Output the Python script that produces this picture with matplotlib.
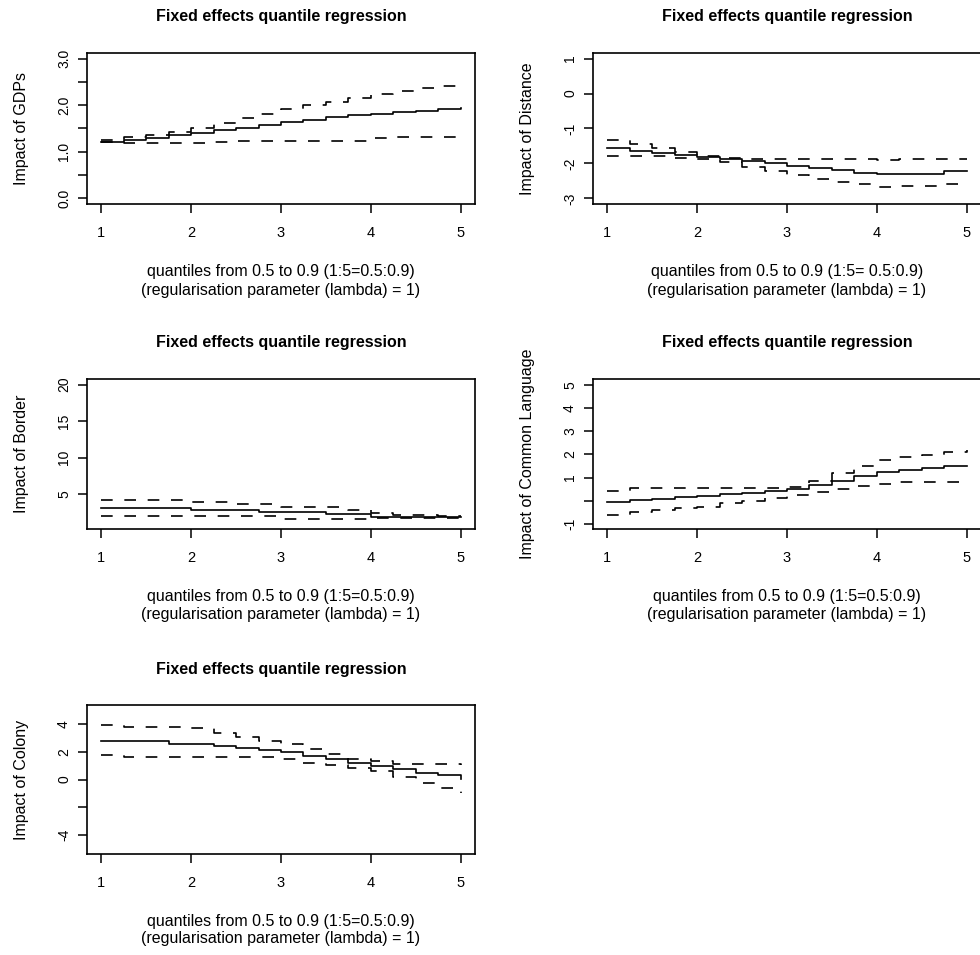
import numpy as np
import matplotlib
matplotlib.use("Agg")
import matplotlib.pyplot as plt

plt.rcParams['font.family'] = ['Liberation Sans', 'DejaVu Sans']

# quantile index 1..5 (tau 0.5 .. 0.9 in 0.025 steps)
q = [1, 1.25, 1.5, 1.75, 2, 2.25, 2.5, 2.75, 3, 3.25, 3.5, 3.75, 4, 4.25, 4.5, 4.75, 5]

gdp_est = [1.21, 1.25, 1.29, 1.35, 1.40, 1.46, 1.52, 1.58, 1.64, 1.69, 1.74, 1.78, 1.82, 1.86, 1.88, 1.91, 1.93]
gdp_hi = [1.25, 1.31, 1.36, 1.43, 1.52, 1.62, 1.72, 1.82, 1.92, 2.00, 2.07, 2.15, 2.25, 2.31, 2.37, 2.42, 2.50]
gdp_lo = [1.21, 1.18, 1.18, 1.18, 1.19, 1.22, 1.23, 1.23, 1.23, 1.23, 1.23, 1.23, 1.29, 1.31, 1.31, 1.31, 1.31]

dist_est = [-1.55, -1.63, -1.70, -1.75, -1.82, -1.87, -1.93, -2.00, -2.07, -2.14, -2.20, -2.26, -2.30, -2.30, -2.30, -2.23, -2.23]
dist_hi = [-1.32, -1.44, -1.55, -1.66, -1.78, -1.85, -1.87, -1.87, -1.87, -1.87, -1.87, -1.87, -1.90, -1.88, -1.88, -1.88, -1.88]
dist_lo = [-1.78, -1.78, -1.80, -1.84, -1.86, -1.95, -2.10, -2.22, -2.34, -2.44, -2.53, -2.60, -2.66, -2.65, -2.65, -2.60, -2.57]

border_est = [3.07, 3.07, 3.07, 3.07, 2.80, 2.80, 2.80, 2.52, 2.52, 2.52, 2.29, 2.29, 1.88, 1.88, 1.88, 1.88, 1.88]
border_hi = [4.22, 4.22, 4.22, 4.22, 3.95, 3.95, 3.72, 3.72, 3.30, 3.30, 3.30, 2.84, 2.48, 2.10, 2.10, 2.05, 2.05]
border_lo = [2.02, 2.02, 2.02, 2.02, 2.02, 2.02, 2.02, 2.02, 1.65, 1.65, 1.65, 1.65, 1.79, 1.79, 1.79, 1.79, 1.79]

lang_est = [-0.06, 0.04, 0.08, 0.14, 0.22, 0.31, 0.35, 0.40, 0.50, 0.67, 0.85, 1.08, 1.25, 1.31, 1.41, 1.50, 1.50]
lang_hi = [0.44, 0.54, 0.54, 0.54, 0.54, 0.54, 0.54, 0.54, 0.60, 0.85, 1.20, 1.50, 1.77, 1.88, 1.97, 2.09, 2.20]
lang_lo = [-0.60, -0.50, -0.42, -0.33, -0.25, -0.12, -0.02, 0.12, 0.25, 0.38, 0.52, 0.62, 0.72, 0.80, 0.80, 0.80, 0.80]

col_est = [2.76, 2.76, 2.76, 2.60, 2.60, 2.45, 2.28, 2.12, 1.97, 1.71, 1.45, 1.20, 0.99, 0.75, 0.50, 0.29, 0.05]
col_hi = [3.92, 3.77, 3.77, 3.77, 3.70, 3.35, 3.05, 2.81, 2.60, 2.20, 1.85, 1.50, 1.35, 1.15, 1.15, 1.10, 1.03]
col_lo = [1.75, 1.61, 1.61, 1.61, 1.61, 1.61, 1.61, 1.61, 1.45, 1.20, 1.05, 0.84, 0.60, 0.15, -0.25, -0.60, -0.96]

ylabels = ["Impact of GDPs", "Impact of Distance", "Impact of Border",
           "Impact of Common Language", "Impact of Colony"]
xlab1 = ["quantiles from 0.5 to 0.9 (1:5=0.5:0.9)", "quantiles from 0.5 to 0.9 (1:5= 0.5:0.9)",
         "quantiles from 0.5 to 0.9 (1:5=0.5:0.9)", "quantiles from 0.5 to 0.9 (1:5=0.5:0.9)",
         "quantiles from 0.5 to 0.9 (1:5=0.5:0.9)"]
xlab2 = "(regularisation parameter (lambda) = 1)"
title = "Fixed effects quantile regression"

yticks = [[0, 0.5, 1, 1.5, 2, 2.5, 3], [-3, -2, -1, 0, 1], [5, 10, 15, 20],
          [-1, 0, 1, 2, 3, 4, 5], [-4, -2, 0, 2, 4]]
ytlabels = [["0.0", "", "1.0", "", "2.0", "", "3.0"], ["-3", "-2", "-1", "0", "1"],
            ["5", "10", "15", "20"], ["-1", "", "1", "2", "3", "4", "5"],
            ["-4", "", "0", "2", "4"]]
ylims = [(-0.12, 3.12), (-3.16, 1.16), (0.24, 20.76), (-1.22, 5.25), (-5.4, 5.4)]

series = [(gdp_est, gdp_hi, gdp_lo), (dist_est, dist_hi, dist_lo),
          (border_est, border_hi, border_lo), (lang_est, lang_hi, lang_lo),
          (col_est, col_hi, col_lo)]

W, H = 980, 955
fig = plt.figure(figsize=(W / 100, H / 100), dpi=100)

# axes boxes in pixels: left, top, right, bottom
boxes = [(87, 53, 475, 204), (593, 53, 981, 204),
         (87, 379, 475, 529), (593, 379, 981, 529),
         (87, 705, 475, 854)]

for i, (l, t, r, b) in enumerate(boxes):
    ax = fig.add_axes([l / W, 1 - b / H, (r - l) / W, (b - t) / H])
    est, hi, lo = series[i]
    ax.plot(q, est, color="black", lw=1.2, drawstyle="steps-post")
    ax.plot(q, hi, color="black", lw=1.2, ls=(0, (7, 7)), drawstyle="steps-post")
    ax.plot(q, lo, color="black", lw=1.2, ls=(0, (7, 7)), drawstyle="steps-post")
    ax.set_xlim(0.84, 5.16)
    ax.set_ylim(*ylims[i])
    ax.set_xticks([1, 2, 3, 4, 5])
    ax.set_xticklabels(["1", "2", "3", "4", "5"], fontsize=10.5)
    ax.set_yticks(yticks[i])
    ax.set_yticklabels(ytlabels[i], fontsize=10, rotation=90, va="center")
    ax.tick_params(direction="out", length=6.5, width=1.1)
    ax.tick_params(axis="x", pad=9)
    ax.tick_params(axis="y", pad=5)
    for s in ax.spines.values():
        s.set_linewidth(1.2)
    ax.text(0.5, 1.24, title, transform=ax.transAxes, ha="center", va="center",
            fontsize=11.5, fontweight="bold")
    ax.text(0.5, -0.45, xlab1[i], transform=ax.transAxes, ha="center", va="center", fontsize=11.5)
    ax.text(0.5, -0.57, xlab2, transform=ax.transAxes, ha="center", va="center", fontsize=11.5)
    ax.text(-0.17, 0.5, ylabels[i], transform=ax.transAxes, ha="center", va="center",
            rotation=90, fontsize=11.5)

fig.savefig("out.png", dpi=100)
